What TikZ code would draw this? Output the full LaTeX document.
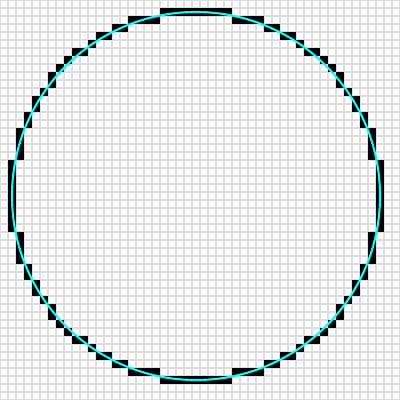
\documentclass[tikz,border=0pt]{standalone}
\definecolor{realcyan}{RGB}{0,255,255}
\definecolor{gridgray}{RGB}{221,221,221}
\begin{document}
\begin{tikzpicture}[x=0.2cm,y=-0.2cm,
  gridline/.style={draw=gridgray,line width=1pt},
  pixel/.style={fill=black},
  realcircle/.style={draw=realcyan,line width=1.5pt}]
\useasboundingbox (0,0) rectangle (50,50);
\fill[white] (0,0) rectangle (50,50);
\foreach \i in {0,...,50} {
  \draw[gridline] (\i,0) -- (\i,50);
  \draw[gridline] (0,\i) -- (50,\i);
}
\foreach \t/\s in {0/23,1/23,2/23,3/23,4/23,5/22,6/22,7/22,8/22,9/21,10/21,11/20,12/20,13/19,14/18,15/18,16/17} {
  \foreach \a/\b in {1/1,1/-1,-1/1,-1/-1} {
    \fill[pixel] ({24+\a*\t},{24+\b*\s}) rectangle ++(1,1);
    \fill[pixel] ({24+\a*\s},{24+\b*\t}) rectangle ++(1,1);
  }
}
\draw[realcircle] (24.5,24.5) circle[radius=23];
\end{tikzpicture}
\end{document}
